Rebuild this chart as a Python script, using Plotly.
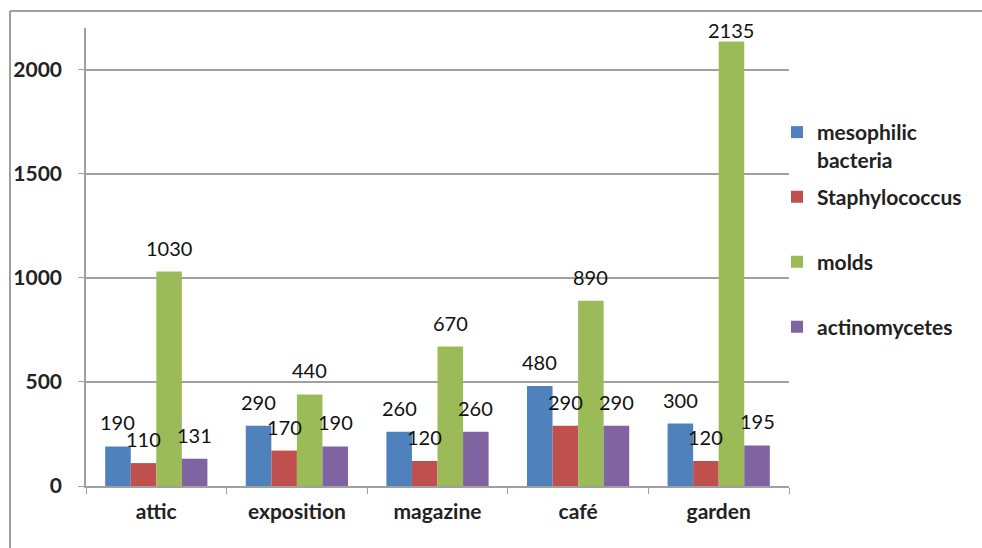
import plotly.graph_objects as go

# Microbial counts per sampled room
rooms = ["attic", "exposition", "magazine", "café", "garden"]
series_names = ["mesophilic<br>bacteria", "Staphylococcus", "molds", "actinomycetes"]
mesophilic = [190, 290, 260, 480, 300]
staphylococcus = [110, 170, 120, 290, 120]
molds = [1030, 440, 670, 890, 2135]
actinomycetes = [131, 190, 260, 290, 195]
y_ticks = [0, 500, 1000, 1500, 2000]

series_values = [mesophilic, staphylococcus, molds, actinomycetes]
colors = ["#4F81BD", "#C0504D", "#9BBB59", "#8064A2"]

W, H = 982, 548
M_L, M_R, M_T, M_B = 86, 193, 28, 62
Y_MAX = 2200
BARGAP = 0.273
FONT = "Lato"
GRID = "#a0a0a0"
TEXT = "#222222"

fig = go.Figure()
legend_ids = ["legend", "legend2", "legend3", "legend4"]
for name, vals, col, lg in zip(series_names, series_values, colors, legend_ids):
    fig.add_trace(go.Bar(
        x=rooms, y=vals, name=name, marker=dict(color=col, line=dict(width=0)),
        legend=lg, hoverinfo="x+y",
    ))

plot_w = W - M_L - M_R
plot_h = H - M_T - M_B

def px_x(px):
    return (px - M_L) / plot_w

def px_y(py):
    return (H - M_B - py) / plot_h

# value labels placed above each bar of the group; labels that would leave
# the top of the chart are pulled down to stay inside it
n = len(series_values)
bar_w = (1 - BARGAP) / n
LABEL_GAP = 24
LABEL_TOP = 30
for j, vals in enumerate(series_values):
    for i, v in enumerate(vals):
        bar_top = M_T + plot_h * (1 - v / Y_MAX)
        shift = min(LABEL_GAP, bar_top - LABEL_TOP)
        fig.add_annotation(
            x=i + (j - (n - 1) / 2) * bar_w, y=v, xref="x", yref="y",
            text=str(v), showarrow=False, yanchor="middle", yshift=shift,
            font=dict(family=FONT, size=20, color="#111111"),
        )

# chart frame (top and left edges)
fig.add_shape(type="line", xref="paper", yref="paper",
              x0=px_x(10), x1=px_x(1000), y0=px_y(11), y1=px_y(11),
              line=dict(color="#a0a0a0", width=2))
fig.add_shape(type="line", xref="paper", yref="paper",
              x0=px_x(10), x1=px_x(10), y0=px_y(11), y1=px_y(560),
              line=dict(color="#a0a0a0", width=2))

legend_centers = [146, 197, 262, 327]
leg_common = dict(
    xref="paper", yref="paper", x=px_x(777), xanchor="left", yanchor="middle",
    font=dict(family=FONT, size=21, color=TEXT, weight="bold"),
    bgcolor="rgba(0,0,0,0)", valign="top",
)
layout_legends = {}
for lg, cy in zip(legend_ids, legend_centers):
    layout_legends[lg] = dict(leg_common, y=px_y(cy))

fig.update_layout(
    width=W, height=H,
    margin=dict(l=M_L, r=M_R, t=M_T, b=M_B, pad=0),
    paper_bgcolor="white", plot_bgcolor="white",
    barmode="group", bargap=BARGAP, bargroupgap=0,
    showlegend=True,
    **layout_legends,
)
fig.update_xaxes(
    type="category", showgrid=False, showline=True, linecolor=GRID, linewidth=1.5,
    ticks="outside", tickson="boundaries", ticklen=6, tickcolor=GRID,
    tickfont=dict(family=FONT, size=21, color=TEXT, weight="bold"), ticklabelstandoff=6,
)
fig.update_yaxes(
    range=[0, Y_MAX], tickvals=y_ticks, showgrid=True, gridcolor=GRID, gridwidth=1.5,
    showline=True, linecolor=GRID, linewidth=1.5, zeroline=False,
    ticks="outside", ticklen=6, tickcolor=GRID,
    tickfont=dict(family=FONT, size=21, color=TEXT, weight="bold"), ticklabelstandoff=12,
)

fig.write_html("out.html")
